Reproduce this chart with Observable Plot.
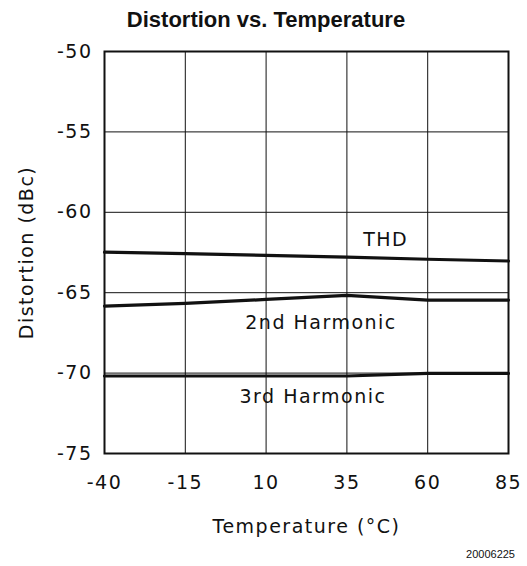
<!DOCTYPE html>
<html>
<head>
<meta charset="utf-8">
<script src="https://cdn.jsdelivr.net/npm/d3@7"></script>
<script src="https://cdn.jsdelivr.net/npm/@observablehq/plot@0.6"></script>
<style>
  html, body { margin: 0; padding: 0; background: #fff; }
  #wrap { position: relative; width: 527px; height: 566px; }
  #title { position: absolute; left: 0; width: 532px; top: 7px; text-align: center; line-height: 24px;
           font: bold 22px "Liberation Sans", Arial, sans-serif; color: #111; }
  #caption { position: absolute; right: 12px; top: 548px; font: 11px "Liberation Sans", Arial, sans-serif; color: #111; }
  #chart svg text { letter-spacing: 1.5px; }
</style>
</head>
<body>
<div id="wrap">
  <div id="title">Distortion vs. Temperature</div>
  <div id="chart"></div>
  <div id="caption">20006225</div>
</div>
<script>
const temperatures = [-40, -15, 10, 35, 60, 85];
const thd = [-62.48, -62.57, -62.68, -62.79, -62.92, -63.03];
const harmonic2 = [-65.83, -65.67, -65.42, -65.17, -65.46, -65.46];
const harmonic3 = [-70.18, -70.18, -70.18, -70.18, -70.02, -70.02];
const yTicks = [-50, -55, -60, -65, -70, -75];
const seriesNames = ["THD", "2nd Harmonic", "3rd Harmonic"];
const labelPos = [
  {name: "THD", x: 47, y: -61.7},
  {name: "2nd Harmonic", x: 27, y: -66.9},
  {name: "3rd Harmonic", x: 24.5, y: -71.5}
];

const rows = [];
[thd, harmonic2, harmonic3].forEach((vals, i) => {
  temperatures.forEach((t, j) => rows.push({series: seriesNames[i], t, v: vals[j]}));
});

const font = "'DejaVu Sans', sans-serif";
const chart = Plot.plot({
  width: 527,
  height: 566,
  marginTop: 51,
  marginBottom: 113,
  marginLeft: 104,
  marginRight: 19,
  style: {fontFamily: font, fontSize: "19px", color: "#111", background: "#fff"},
  x: {domain: [-40, 85]},
  y: {domain: [-75, -50]},
  marks: [
    Plot.ruleX(temperatures, {stroke: "#111", strokeWidth: 1}),
    Plot.ruleY(yTicks, {stroke: "#111", strokeWidth: 1}),
    Plot.frame({stroke: "#111", strokeWidth: 2}),
    Plot.line(rows, {x: "t", y: "v", z: "series", stroke: "#111", strokeWidth: 3.2}),
    Plot.text(labelPos, {x: "x", y: "y", text: "name", fontSize: 19, fill: "#111", fontFamily: font}),
    Plot.axisX(temperatures, {tickSize: 0, tickPadding: 22, fontSize: 19, tickFormat: d => (d < 0 ? "-" : "") + Math.abs(d),
      label: "Temperature (°C)", labelAnchor: "center", labelOffset: 79, labelArrow: false}),
    Plot.axisY(yTicks, {tickSize: 0, tickPadding: 12, fontSize: 19, tickFormat: d => (d < 0 ? "-" : "") + Math.abs(d),
      label: "Distortion (dBc)", labelAnchor: "center", labelOffset: 85, labelArrow: false})
  ]
});
document.getElementById("chart").appendChild(chart);
</script>
</body>
</html>
